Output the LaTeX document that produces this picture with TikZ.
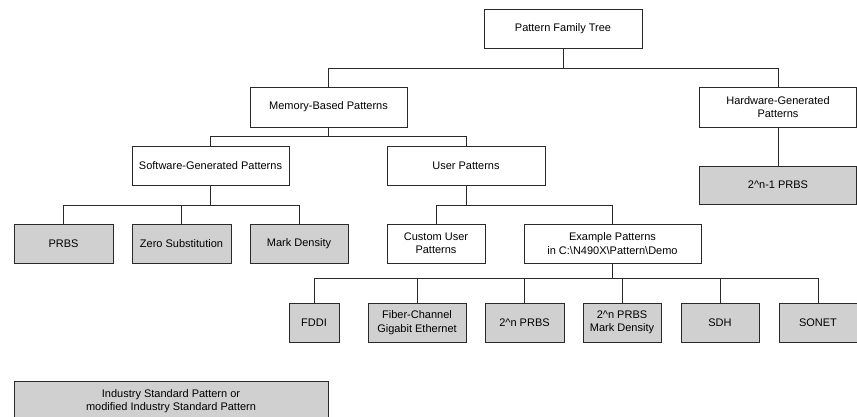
\documentclass[tikz,border=0pt]{standalone}
\usepackage{fontspec}
\setmainfont{Liberation Sans}
\definecolor{boxgray}{HTML}{D0D0D0}
\definecolor{linegray}{HTML}{2A2A2A}
\begin{document}
\begin{tikzpicture}[x=1pt,y=-1pt,
  every node/.style={font=\fontsize{11}{13.3}\selectfont, align=center, inner sep=0pt},
  wbox/.style={draw=linegray, line width=0.9pt, fill=white},
  gbox/.style={draw=linegray, line width=0.9pt, fill=boxgray},
  conn/.style={draw=linegray, line width=0.9pt}]
\useasboundingbox (0,0) rectangle (857,416);
% boxes
\node[wbox, minimum width=158pt, minimum height=39pt] (top) at (563,28.5) {Pattern Family Tree};
\node[wbox, minimum width=157pt, minimum height=40pt] (mem) at (328.5,107) {Memory-Based Patterns};
\node[wbox, minimum width=157pt, minimum height=40pt] (hw) at (778,107) {Hardware-Generated\\Patterns};
\node[wbox, minimum width=157pt, minimum height=39pt] (sw) at (210.5,165.5) {Software-Generated Patterns};
\node[wbox, minimum width=158pt, minimum height=39pt] (user) at (466,165.5) {User Patterns};
\node[gbox, minimum width=157pt, minimum height=38pt] (hwprbs) at (778,185) {2\^{}n-1 PRBS};
\node[gbox, minimum width=99pt, minimum height=39pt] (prbs) at (63.5,243.5) {PRBS};
\node[gbox, minimum width=99pt, minimum height=39pt] (zero) at (181.5,243.5) {Zero Substitution};
\node[gbox, minimum width=98pt, minimum height=39pt] (mark) at (299,243.5) {Mark Density};
\node[wbox, minimum width=98pt, minimum height=39pt] (custom) at (436,243.5) {Custom User\\Patterns};
\node[wbox, minimum width=177pt, minimum height=39pt] (example) at (612.5,243.5) {Example Patterns\\in C:\textbackslash N490X\textbackslash Pattern\textbackslash Demo};
\node[gbox, minimum width=50pt, minimum height=39pt] (fddi) at (314,322.5) {FDDI};
\node[gbox, minimum width=98pt, minimum height=39pt] (fiber) at (417,322.5) {Fiber-Channel\\Gigabit Ethernet};
\node[gbox, minimum width=79pt, minimum height=39pt] (ptwo) at (524.5,322.5) {2\^{}n PRBS};
\node[gbox, minimum width=78pt, minimum height=39pt] (ptwom) at (622,322.5) {2\^{}n PRBS\\Mark Density};
\node[gbox, minimum width=78pt, minimum height=39pt] (sdh) at (720,322.5) {SDH};
\node[gbox, minimum width=78pt, minimum height=39pt] (sonet) at (818,322.5) {SONET};
\node[gbox, minimum width=314pt, minimum height=40pt] (legend) at (171,401) {Industry Standard Pattern or\\modified Industry Standard Pattern};
% connectors
\foreach \c in {mem,hw} \draw[conn] (top.south) -- ++(0,-19.5pt) -| (\c.north);
\foreach \c in {sw,user} \draw[conn] (mem.south) -- ++(0,-9pt) -| (\c.north);
\draw[conn] (hw.south) -- (hwprbs.north);
\foreach \c in {prbs,zero,mark} \draw[conn] (sw.south) -- ++(0,-19.5pt) -| (\c.north);
\foreach \c in {custom,example} \draw[conn] (user.south) -- ++(0,-19.5pt) -| (\c.north);
\foreach \c in {fddi,fiber,ptwo,ptwom,sdh,sonet} \draw[conn] (example.south) -- ++(0,-15pt) -| (\c.north);
\end{tikzpicture}
\end{document}
